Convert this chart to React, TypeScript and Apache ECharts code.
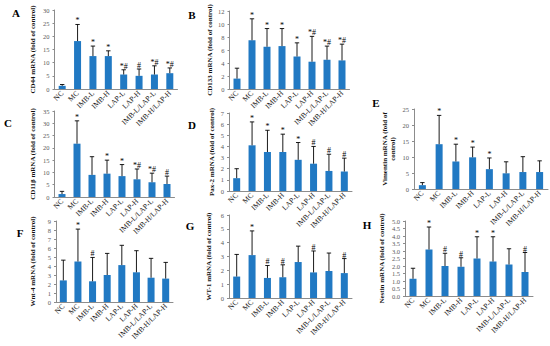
import React, { useEffect, useRef } from "react";
import * as echarts from "echarts";

const categories = ["NC", "MC", "IMB-L", "IMB-H", "LAP-L", "LAP-H", "IMB-L/LAP-L", "IMB-H/LAP-H"];

// A: CD44
const cd44Mean = [1.2, 18.2, 12.5, 12.5, 5.5, 5.0, 5.5, 6.0];
const cd44Sd = [0.5, 6.3, 3.8, 2.0, 1.8, 2.6, 3.3, 2.0];
const cd44Sig = ["", "*", "*", "*", "*#", "#", "*#", "*#"];
// B: CD133
const cd133Mean = [1.6, 7.5, 6.5, 6.6, 5.0, 4.2, 4.5, 4.4];
const cd133Sd = [1.6, 3.3, 2.8, 2.7, 2.1, 3.9, 2.1, 2.5];
const cd133Sig = ["", "*", "*", "*", "*", "*#", "*#", "*#"];
// C: CD11b
const cd11Mean = [1.2, 21.7, 9.0, 9.5, 8.5, 7.2, 6.0, 5.3];
const cd11Sd = [1.1, 9.3, 7.4, 5.5, 4.7, 4.2, 3.7, 3.2];
const cd11Sig = ["", "*", "", "*", "*", "*#", "*#", "#"];
// D: Pax-2
const pax2Mean = [1.15, 4.1, 3.5, 3.5, 2.8, 2.45, 1.8, 1.75];
const pax2Sd = [0.85, 2.1, 1.95, 1.6, 1.55, 1.55, 1.5, 1.2];
const pax2Sig = ["", "*", "*", "*", "*", "#", "#", "#"];
// E: Vimentin
const vimMean = [1.2, 14.0, 8.6, 9.9, 6.2, 4.9, 5.3, 5.3];
const vimSd = [0.8, 9.0, 5.4, 3.2, 3.5, 3.6, 4.8, 3.5];
const vimSig = ["", "*", "*", "*", "*", "", "", ""];
// F: Wnt-4
const wnt4Mean = [2.4, 4.5, 2.3, 3.0, 4.1, 3.3, 2.7, 2.6];
const wnt4Sd = [2.25, 3.6, 2.65, 2.4, 2.2, 2.4, 2.15, 1.8];
const wnt4Sig = ["", "*", "#", "", "", "", "", ""];
// G: WT-1
const wt1Mean = [1.55, 3.1, 1.45, 1.5, 2.6, 1.85, 1.95, 1.8];
const wt1Sd = [1.6, 1.75, 0.9, 0.9, 1.15, 1.55, 1.3, 1.05];
const wt1Sig = ["", "*", "#", "#", "", "#", "", "#"];
// H: Nestin
const nestinMean = [1.15, 3.1, 2.0, 1.95, 2.5, 2.3, 2.1, 1.6];
const nestinSd = [0.7, 1.5, 0.85, 0.6, 1.45, 1.65, 1.05, 1.3];
const nestinSig = ["", "*", "#", "#", "*", "*", "", "#"];

const SERIF = '"Liberation Serif", "Times New Roman", serif';
const BAR = "#2179C3";
const AXIS = "#8c8c8c";

type Panel = {
  letter: string;
  name: string;
  mean: number[];
  sd: number[];
  sig: string[];
  max: number;
  interval: number;
  decimals: number;
  grid: { left: number; top: number; width: number; height: number };
  nameGap: number;
  letterPos: [number, number];
};

const panels: Panel[] = [
  { letter: "A", name: "CD44 mRNA (fold of control)", mean: cd44Mean, sd: cd44Sd, sig: cd44Sig, max: 30, interval: 5, decimals: 0,
    grid: { left: 54.5, top: 10, width: 123, height: 79 }, nameGap: 17.5, letterPos: [16, 13] },
  { letter: "B", name: "CD133 mRNA (fold of control)", mean: cd133Mean, sd: cd133Sd, sig: cd133Sig, max: 12, interval: 2, decimals: 0,
    grid: { left: 229.5, top: 11, width: 120, height: 78 }, nameGap: 14, letterPos: [192, 15] },
  { letter: "C", name: "CD11β mRNA (fold of control)", mean: cd11Mean, sd: cd11Sd, sig: cd11Sig, max: 35, interval: 5, decimals: 0,
    grid: { left: 54.5, top: 111, width: 120, height: 86 }, nameGap: 18, letterPos: [8, 123] },
  { letter: "D", name: "Pax-2 mRNA (fold of control)", mean: pax2Mean, sd: pax2Sd, sig: pax2Sig, max: 7, interval: 1, decimals: 0,
    grid: { left: 229, top: 113, width: 123, height: 78 }, nameGap: 13.5, letterPos: [192, 125] },
  { letter: "E", name: "Vimentin mRNA (fold of\ncontrol)", mean: vimMean, sd: vimSd, sig: vimSig, max: 25, interval: 5, decimals: 0,
    grid: { left: 414, top: 109, width: 134, height: 80 }, nameGap: 17, letterPos: [376, 103] },
  { letter: "F", name: "Wnt-4 mRNA (fold of control)", mean: wnt4Mean, sd: wnt4Sd, sig: wnt4Sig, max: 9, interval: 1, decimals: 0,
    grid: { left: 56, top: 221, width: 117, height: 81 }, nameGap: 19.5, letterPos: [20, 233] },
  { letter: "G", name: "WT-1 mRNA (fold of control)", mean: wt1Mean, sd: wt1Sd, sig: wt1Sig, max: 6, interval: 1, decimals: 0,
    grid: { left: 229, top: 215, width: 123, height: 83 }, nameGap: 16.5, letterPos: [190, 226] },
  { letter: "H", name: "Nestin mRNA (fold of control)", mean: nestinMean, sd: nestinSd, sig: nestinSig, max: 5, interval: 0.5, decimals: 1,
    grid: { left: 405, top: 221, width: 128, height: 75 }, nameGap: 19.5, letterPos: [367, 225] },
];

function buildOption() {
  const grid = panels.map((p) => ({ ...p.grid, outerBoundsMode: "none", containLabel: false }));
  const xAxis = panels.map((p, i) => ({
    type: "category",
    gridIndex: i,
    data: categories,
    axisLine: { show: true, lineStyle: { color: AXIS, width: 1 } },
    axisTick: { show: false },
    splitLine: { show: false },
    axisLabel: { rotate: 45, interval: 0, fontSize: 7.5, fontFamily: SERIF, color: "#1a1a1a", margin: 3 },
  }));
  const yAxis = panels.map((p, i) => ({
    type: "value",
    gridIndex: i,
    min: 0,
    max: p.max,
    interval: p.interval,
    name: p.name,
    nameLocation: "middle",
    nameGap: p.nameGap,
    nameTextStyle: { fontFamily: SERIF, fontWeight: "bold", fontSize: 7, color: "#111", lineHeight: 8 },
    axisLine: { show: true, lineStyle: { color: AXIS, width: 1 } },
    axisTick: { show: true, length: 2, lineStyle: { color: AXIS } },
    splitLine: { show: false },
    axisLabel: {
      fontSize: 6.5,
      fontFamily: SERIF,
      color: "#595959",
      margin: 5,
      formatter: (v: number) => v.toFixed(p.decimals),
    },
  }));
  const series: any[] = [];
  panels.forEach((p, i) => {
    series.push({
      type: "bar",
      xAxisIndex: i,
      yAxisIndex: i,
      data: p.mean,
      barWidth: 7,
      itemStyle: { color: BAR },
      silent: true,
    });
    series.push({
      type: "custom",
      xAxisIndex: i,
      yAxisIndex: i,
      clip: false,
      z: 5,
      silent: true,
      data: p.mean.map((m, k) => [k, m, p.sd[k]]),
      renderItem: (params: any, api: any) => {
        const k = api.value(0);
        const m = api.value(1);
        const s = api.value(2);
        const base = api.coord([k, m]);
        const top = api.coord([k, m + s]);
        const mark = p.sig[params.dataIndex] || "";
        const children: any[] = [
          { type: "line", shape: { x1: base[0], y1: base[1], x2: top[0], y2: top[1] }, style: { stroke: "#000", lineWidth: 0.9 } },
          { type: "line", shape: { x1: top[0] - 2.2, y1: top[1], x2: top[0] + 2.2, y2: top[1] }, style: { stroke: "#000", lineWidth: 0.9 } },
        ];
        if (mark) {
          children.push({
            type: "text",
            x: top[0],
            y: top[1] + 0.5,
            style: { text: mark, fontSize: 8, fontFamily: SERIF, fill: "#000", align: "center", verticalAlign: "bottom" },
          });
        }
        return { type: "group", children };
      },
    });
  });
  const graphic = panels.map((p) => ({
    type: "text",
    x: p.letterPos[0],
    y: p.letterPos[1],
    style: { text: p.letter, fontSize: 11, fontWeight: "bold", fontFamily: SERIF, fill: "#000", align: "center", verticalAlign: "middle" },
  }));
  return { animation: false, backgroundColor: "#fff", grid, xAxis, yAxis, series, graphic };
}

export default function App() {
  const ref = useRef<HTMLDivElement>(null);
  useEffect(() => {
    if (!ref.current) return;
    const chart = echarts.init(ref.current, undefined, { renderer: "svg" });
    chart.setOption(buildOption() as any);
    return () => chart.dispose();
  }, []);
  return <div ref={ref} style={{ position: "fixed", left: 0, top: 0, width: 550, height: 346, background: "#fff" }} />;
}
